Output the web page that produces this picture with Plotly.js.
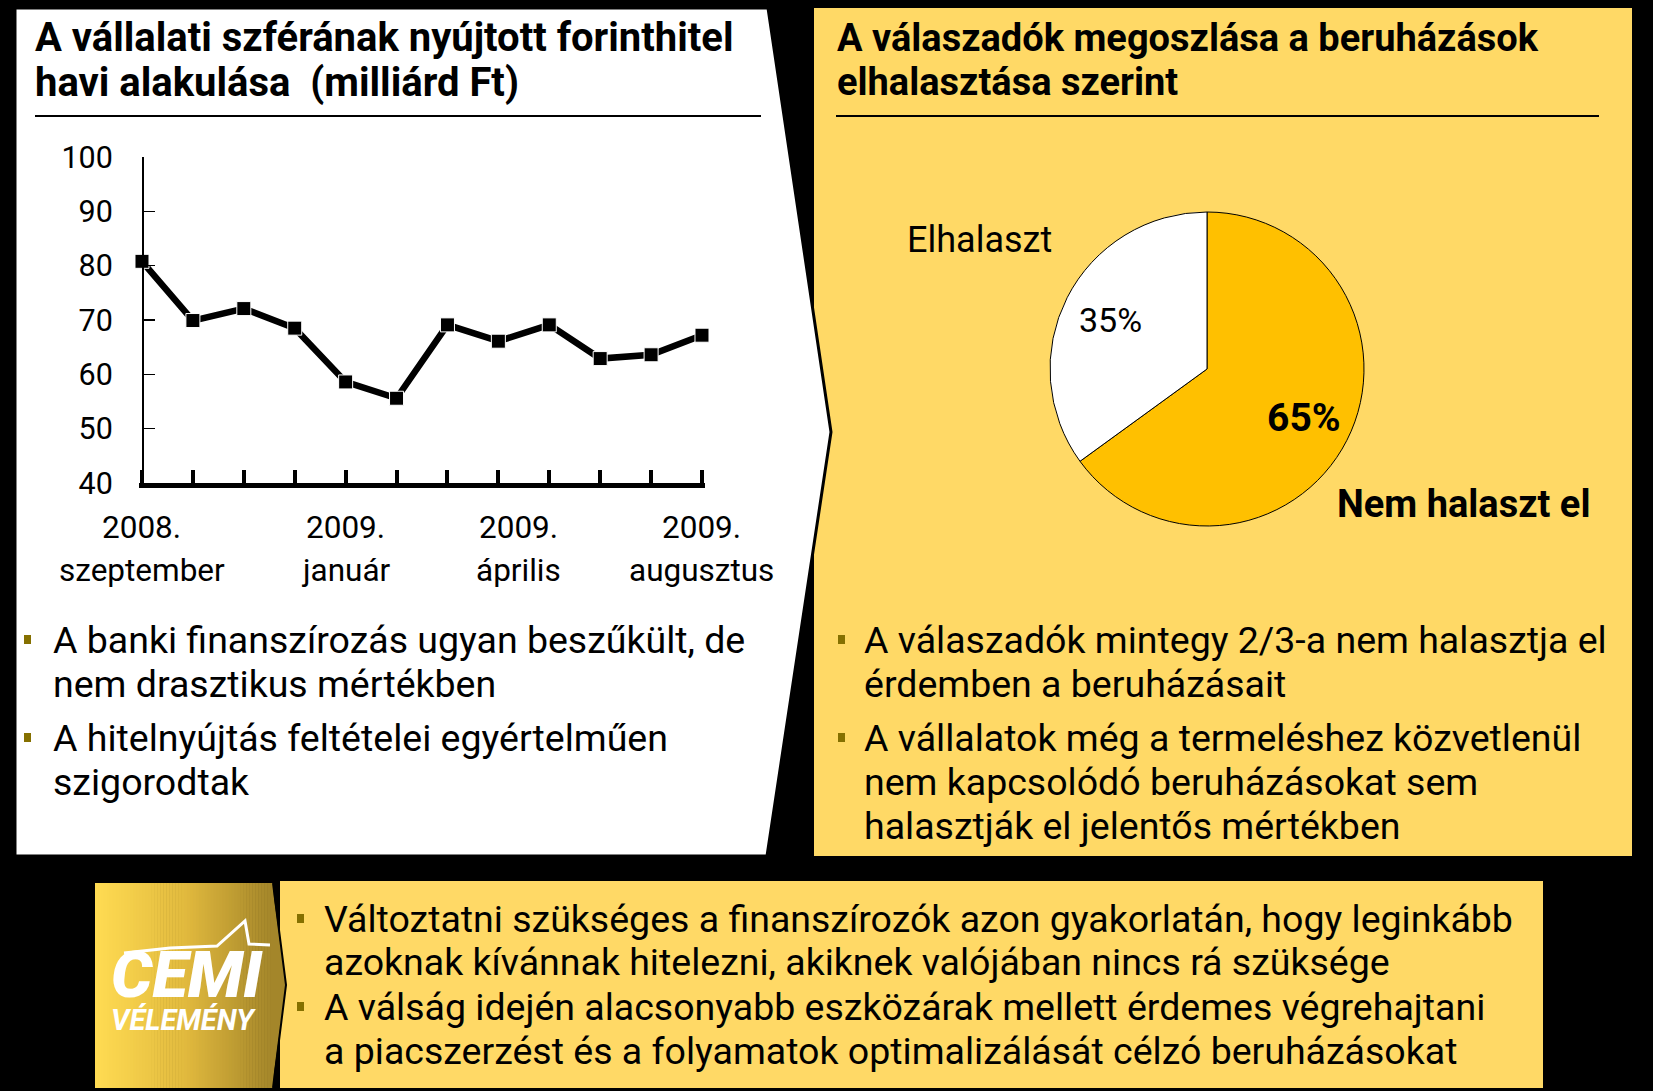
<!DOCTYPE html>
<html><head><meta charset="utf-8">
<script src="https://cdn.plot.ly/plotly-3.0.1.min.js"></script>
<style>html,body{margin:0;padding:0;background:#000;}#chart{width:1653px;height:1091px;}</style>
</head><body><div id="chart"></div>
<script>
// ---------------- data ----------------
const months = ['2008. szeptember','2008. október','2008. november','2008. december','2009. január','2009. február','2009. március','2009. április','2009. május','2009. június','2009. július','2009. augusztus'];
const loans = [80.8, 69.9, 72.1, 68.5, 58.6, 55.6, 69.1, 66.1, 69.1, 62.9, 63.6, 67.2];
const yTickVals = [40, 50, 60, 70, 80, 90, 100];
const xLabelTop = ['2008.', '2009.', '2009.', '2009.'];
const xLabelBottom = ['szeptember', 'január', 'április', 'augusztus'];
const xLabelAt = [0, 4, 7.4, 11];
const pieLabels = ['Nem halaszt el', 'Elhalaszt'];
const pieValues = [65, 35];
const pieColors = ['#FFC000', '#FFFFFF'];
const leftTitle = ['A vállalati szférának nyújtott forinthitel', 'havi alakulása\u00a0 (milliárd Ft)'];
const rightTitle = ['A válaszadók megoszlása a beruházások', 'elhalasztása szerint'];
const leftLines = ['A banki finanszírozás ugyan beszűkült, de', 'nem drasztikus mértékben', 'A hitelnyújtás feltételei egyértelműen', 'szigorodtak'];
const leftBullet = [true, false, true, false];
const rightLines = ['A válaszadók mintegy 2/3-a nem halasztja el', 'érdemben a beruházásait', 'A vállalatok még a termeléshez közvetlenül', 'nem kapcsolódó beruházásokat sem', 'halasztják el jelentős mértékben'];
const rightBullet = [true, false, true, false, false];
const bottomLines = ['Változtatni szükséges a finanszírozók azon gyakorlatán, hogy leginkább', 'azoknak kívánnak hitelezni, akiknek valójában nincs rá szüksége', 'A válság idején alacsonyabb eszközárak mellett érdemes végrehajtani', 'a piacszerzést és a folyamatok optimalizálását célzó beruházásokat'];
const bottomBullet = [true, false, true, false];

// ---------------- helpers ----------------
const W = 1653, H = 1091;
const PX = x => x / W;
const PY = y => 1 - y / H;
const FONT = 'Roboto, "Liberation Sans", sans-serif';
const YEL = '#FFD966';
const BUL = '#857000';

function path(pts) {
  return 'M ' + pts.map(p => PX(p[0]).toFixed(5) + ',' + PY(p[1]).toFixed(5)).join(' L ') + ' Z';
}
function rect(x0, y0, x1, y1, fill, extra) {
  return Object.assign({type: 'rect', xref: 'paper', yref: 'paper', x0: PX(x0), x1: PX(x1), y0: PY(y1), y1: PY(y0),
    fillcolor: fill, line: {width: 0}, layer: 'below'}, extra || {});
}
function txt(text, x, y, size, opts) {
  opts = opts || {};
  return {xref: 'paper', yref: 'paper', x: PX(x), y: PY(y), xanchor: opts.anchor || 'left', yanchor: opts.yanchor || 'middle',
    text: text, showarrow: false,
    font: {family: FONT, size: size, color: opts.color || '#000', weight: opts.weight || 400, style: opts.style || 'normal'}};
}

const shapes = [];
const annotations = [];

// panels
shapes.push(rect(814, 8, 1632, 856, YEL));
shapes.push({type: 'path', xref: 'paper', yref: 'paper', layer: 'below',
  path: path([[15, 8], [768, 8], [831, 432], [767, 856], [15, 856]]), fillcolor: '#FFFFFF', line: {color: '#000', width: 3}});
shapes.push({type: 'line', xref: 'paper', yref: 'paper', x0: PX(35), x1: PX(761), y0: PY(116), y1: PY(116), line: {color: '#000', width: 2}, layer: 'below'});
shapes.push({type: 'line', xref: 'paper', yref: 'paper', x0: PX(836), x1: PX(1599), y0: PY(116), y1: PY(116), line: {color: '#000', width: 2}, layer: 'below'});

// bottom text box
shapes.push(rect(280, 881, 1543, 1088, YEL));
// logo box with gradient strips
const gx0 = 95, gx1 = 273, N = 60;
const c0 = [255, 219, 82], c1 = [226, 186, 62], c2 = [164, 134, 42];
function mix(a, b, t) { return a.map((v, i) => Math.round(v + (b[i] - v) * t)); }
for (let i = 0; i < N; i++) {
  const t = i / (N - 1);
  const c = t < 0.5 ? mix(c0, c1, t * 2) : mix(c1, c2, (t - 0.5) * 2);
  const xa = gx0 + (gx1 - gx0) * i / N, xb = gx0 + (gx1 - gx0) * (i + 1) / N + 0.6;
  shapes.push(rect(xa, 883, xb, 1088, 'rgb(' + c.join(',') + ')'));
}
shapes.push({type: 'path', xref: 'paper', yref: 'paper', layer: 'below',
  path: path([[272, 883], [286, 985], [272, 1088]]), fillcolor: 'rgb(' + c2.join(',') + ')', line: {width: 0}});
shapes.push({type: 'path', xref: 'paper', yref: 'paper', layer: 'below',
  path: 'M ' + PX(273) + ',' + PY(883) + ' L ' + PX(286) + ',' + PY(985) + ' L ' + PX(273) + ',' + PY(1088),
  fillcolor: 'rgba(0,0,0,0)', line: {color: '#000', width: 2}});
// logo swoosh
shapes.push({type: 'path', xref: 'paper', yref: 'paper', layer: 'above',
  path: 'M ' + [[124, 953], [170, 948], [217, 946], [245, 921], [249, 944], [270, 945]].map(p => PX(p[0]).toFixed(5) + ',' + PY(p[1]).toFixed(5)).join(' L '),
  fillcolor: 'rgba(0,0,0,0)', line: {color: '#FFFFFF', width: 3}});
annotations.push(txt('CEMI', 187, 975, 65, {anchor: 'center', color: '#FFFFFF', weight: 900, style: 'italic'}));
annotations.push(txt('VÉLEMÉNY', 183, 1020, 29, {anchor: 'center', color: '#FFFFFF', weight: 700, style: 'italic'}));

// titles
const titleY = [38, 82];
leftTitle.forEach((t, i) => annotations.push(txt(t, 33, titleY[i], 40, {weight: 700})));
rightTitle.forEach((t, i) => annotations.push(txt(t, 835, titleY[i], 38, {weight: 700})));

// bullets + text
const BODY = 37.5;
const bodyY = [640, 684, 738, 782, 826];
function addLines(lines, flags, ys, tx, bx) {
  lines.forEach((t, i) => {
    annotations.push(txt(t, tx, ys[i], BODY));
    if (flags[i]) shapes.push(rect(bx, ys[i] - 5, bx + 7, ys[i] + 4, BUL, {layer: 'above'}));
  });
}
addLines(leftLines, leftBullet, bodyY, 51, 24);
addLines(rightLines, rightBullet, bodyY, 862, 838);
addLines(bottomLines, bottomBullet, [919, 962, 1007, 1051], 322, 297);

// pie geometry (domain in pixels)
const pieCx = 1207, pieCy = 369, pieR = 157;
// pie outside labels
annotations.push(txt(pieLabels[1], 980, 240, 36, {anchor: 'center'}));
annotations.push(txt(pieLabels[0], 1463, 504, 38, {anchor: 'center', weight: 700}));
// percent labels placed at the middle angle of each slice (clockwise from 12 o'clock)
const pieTotal = pieValues.reduce((a, b) => a + b, 0);
let cum = 0;
const pctSize = [39, 34], pctWeight = [700, 400], pctRadius = 0.69;
pieValues.forEach((v, i) => {
  const mid = (cum + v / 2) / pieTotal * 2 * Math.PI;
  cum += v;
  const x = pieCx + pieR * pctRadius * Math.sin(mid);
  const y = pieCy - pieR * pctRadius * Math.cos(mid);
  annotations.push(txt(Math.round(v / pieTotal * 100) + '%', x, y, pctSize[i], {anchor: 'center', weight: pctWeight[i]}));
});

// x axis labels
xLabelAt.forEach((x, i) => {
  annotations.push({xref: 'x', yref: 'paper', x: x, y: PY(527), xanchor: 'center', yanchor: 'middle', showarrow: false,
    text: xLabelTop[i], font: {family: FONT, size: 31.5, color: '#000'}});
  annotations.push({xref: 'x', yref: 'paper', x: x, y: PY(570), xanchor: 'center', yanchor: 'middle', showarrow: false,
    text: xLabelBottom[i], font: {family: FONT, size: 31.5, color: '#000'}});
});

// ---------------- traces ----------------
const lineTrace = {
  type: 'scatter', mode: 'lines+markers', x: months, y: loans, cliponaxis: false,
  line: {color: '#000', width: 6.5},
  marker: {symbol: 'square', size: 14, color: '#000', line: {color: '#FFFFFF', width: 1}},
  hovertemplate: '%{x}: %{y}<extra></extra>'
};
const pieTrace = {
  type: 'pie', labels: pieLabels, values: pieValues, sort: false, direction: 'clockwise', rotation: 0,
  marker: {colors: pieColors, line: {color: '#000', width: 1}},
  textinfo: 'none',
  domain: {x: [PX(pieCx - pieR), PX(pieCx + pieR)], y: [PY(pieCy + pieR), PY(pieCy - pieR)]},
  showlegend: false, hoverinfo: 'label+percent'
};

const ppu = (702 - 142) / 11;
const layout = {
  width: W, height: H,
  margin: {l: 0, r: 0, t: 0, b: 0, pad: 0},
  paper_bgcolor: '#000000', plot_bgcolor: 'rgba(0,0,0,0)',
  showlegend: false,
  font: {family: FONT, color: '#000'},
  xaxis: {
    type: 'category', domain: [PX(142 - 0.06 * ppu), PX(702 + 0.06 * ppu)], range: [-0.06, 11.06],
    showgrid: false, zeroline: false, showline: true, linecolor: '#000', linewidth: 4.5,
    ticks: 'inside', ticklen: 13, tickwidth: 4, tickcolor: '#000', showticklabels: false,
    tickmode: 'array', tickvals: months, fixedrange: true
  },
  yaxis: {
    anchor: 'free', position: PX(142), domain: [PY(483), PY(157)], range: [40, 100],
    tickvals: yTickVals, ticks: 'inside', ticklen: 11, tickwidth: 1.5, tickcolor: '#000',
    showline: true, linecolor: '#000', linewidth: 1.5, showgrid: false, zeroline: false,
    tickfont: {family: FONT, size: 30.5, color: '#000'}, ticklabelstandoff: 23, fixedrange: true
  },
  shapes: shapes,
  annotations: annotations
};

Plotly.newPlot('chart', [lineTrace, pieTrace], layout, {displayModeBar: false, staticPlot: true});
</script></body></html>
